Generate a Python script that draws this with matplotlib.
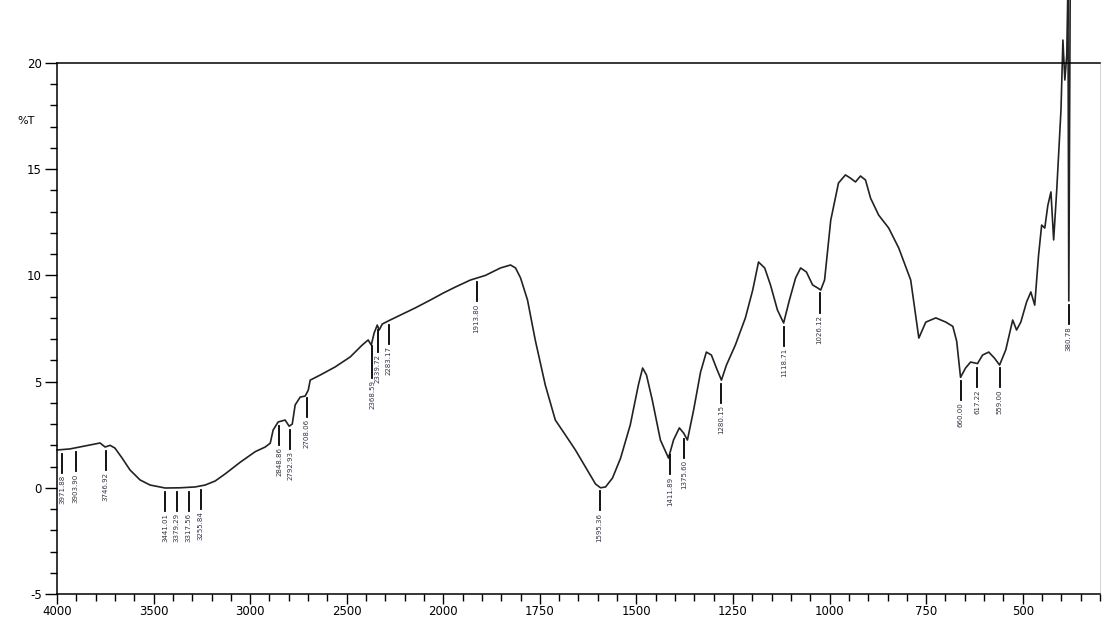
import numpy as np
import matplotlib
matplotlib.use("Agg")
import matplotlib.pyplot as plt
from matplotlib.ticker import FixedLocator

# IR spectrum, wavenumber (cm-1) vs %T
wavenumber = [
    4000, 3933, 3855, 3803, 3777, 3751, 3725, 3700, 3663, 3622, 3570, 3518,
    3440, 3363, 3285, 3233, 3181, 3130, 3052, 2974, 2922, 2896, 2881, 2855,
    2819, 2798, 2782, 2767, 2741, 2715, 2699, 2689, 2637, 2560, 2482, 2420,
    2389, 2373, 2358, 2342, 2332, 2316, 2275, 2223, 2145, 2067, 2000,
    1969, 1930, 1891, 1852, 1826, 1813, 1800, 1782, 1762, 1736, 1710, 1684,
    1658, 1632, 1606, 1593, 1580, 1562, 1541, 1516, 1495, 1484, 1474, 1459,
    1438, 1417, 1404, 1389, 1378, 1368, 1352, 1334, 1319, 1306, 1293, 1280,
    1267, 1244, 1218, 1199, 1184, 1168, 1153, 1135, 1119, 1104, 1088, 1075,
    1060, 1044, 1031, 1023, 1013, 997, 977, 959, 946, 933, 920, 907, 894,
    873, 847, 821, 790, 769, 751, 725, 699, 681, 671, 661, 648, 635, 617,
    604, 588, 573, 560, 544, 526, 516, 505, 490, 479, 469, 459, 451, 443,
    435, 427, 420, 412, 401, 396, 391, 386, 383, 380.78, 377,
]
transmittance = [
    1.78, 1.83, 1.97, 2.06, 2.11, 1.92, 2.00, 1.87, 1.40, 0.84, 0.37, 0.13,
    -0.01, 0.00, 0.04, 0.13, 0.32, 0.65, 1.20, 1.70, 1.92, 2.10, 2.72, 3.10,
    3.19, 2.90, 3.00, 3.90, 4.27, 4.32, 4.60, 5.07, 5.31, 5.69, 6.16, 6.72,
    6.96, 6.72, 7.29, 7.66, 7.43, 7.71, 7.90, 8.13, 8.47, 8.84, 9.17,
    9.45, 9.78, 10.00, 10.35, 10.49, 10.35, 9.88, 8.84, 6.96, 4.84, 3.19, 2.49,
    1.78, 0.98, 0.18, 0.00, 0.04, 0.46, 1.40, 2.96, 4.84, 5.64, 5.31, 4.13,
    2.25, 1.40, 2.25, 2.82, 2.58, 2.25, 3.66, 5.45, 6.39, 6.25, 5.64, 5.07,
    5.78, 6.72, 8.00, 9.31, 10.63, 10.35, 9.55, 8.37, 7.76, 8.84, 9.88, 10.35,
    10.16, 9.55, 9.41, 9.31, 9.78, 12.60, 14.35, 14.73, 14.58, 14.40, 14.68, 14.49, 13.64,
    12.84, 12.23, 11.29, 9.78, 7.05, 7.80, 8.00, 7.80, 7.60, 6.90, 5.20, 5.64, 5.92, 5.85,
    6.25, 6.39, 6.10, 5.78, 6.49, 7.90, 7.43, 7.80, 8.75, 9.22, 8.60, 10.96, 12.37, 12.23,
    13.30, 13.93, 11.67, 14.02, 17.79, 21.08, 19.20, 20.38, 23.70, 8.80, 24.00,
]

peaks = [3971.88, 3903.90, 3746.92, 3441.01, 3379.29, 3317.56, 3255.84,
         2848.86, 2792.93, 2708.06, 2368.59, 2339.72, 2283.17, 1913.80,
         1595.36, 1411.89, 1375.60, 1280.15, 1118.71, 1026.12,
         660.00, 617.22, 559.00, 380.78]

yticks = [-5, 0, 5, 10, 15, 20]
xticks = [4000, 3500, 3000, 2500, 2000, 1750, 1500, 1250, 1000, 750, 500]

# crowded markers get a longer stem so their labels don't collide
stem_extra = {2368.59: 0.6, 2339.72: 0.1}


# split wavenumber axis: 500 per division above 2000, 250 per division below
def fwd(w):
    w = np.asarray(w, dtype=float)
    return np.where(w >= 2000, (w - 2000) / 500.0, (w - 2000) / 250.0)


def inv(u):
    u = np.asarray(u, dtype=float)
    return np.where(u >= 0, 2000 + 500.0 * u, 2000 + 250.0 * u)


fig = plt.figure(figsize=(11.02, 6.24), dpi=100)
ax = fig.add_axes([57 / 1102, 30 / 624, 1043 / 1102, 531 / 624])
ax.set_xscale("function", functions=(fwd, inv))

ax.plot(wavenumber, transmittance, color="#222222", lw=1.2, clip_on=False)

ax.set_xlim(4000, 300)
ax.set_ylim(-5, 20)

minor_x = list(range(4000, 2000, -100)) + list(range(2000, 299, -50))
ax.xaxis.set_major_locator(FixedLocator(xticks))
ax.xaxis.set_minor_locator(FixedLocator(minor_x))
ax.set_xticklabels([str(t) for t in xticks])
ax.yaxis.set_major_locator(FixedLocator(yticks))
ax.yaxis.set_minor_locator(FixedLocator(list(range(-5, 21))))
ax.set_yticklabels([str(t) for t in yticks])

ax.tick_params(axis="both", which="major", direction="out", length=7,
               width=1, labelsize=8.5, colors="black")
ax.tick_params(axis="both", which="minor", direction="out", length=5, width=1)
ax.tick_params(axis="x", pad=1)
ax.tick_params(axis="y", which="major", length=9, pad=2)

for side in ["left", "bottom", "top"]:
    ax.spines[side].set_linewidth(1.1)
ax.spines["right"].set_color("#cccccc")
ax.spines["right"].set_linewidth(0.6)

ax.text(-0.03, 0.89, "%T", transform=ax.transAxes, fontsize=8,
        ha="center", va="center")

# peak markers: short tick under the curve, value written below it
w_sorted = np.array(wavenumber[::-1])
t_sorted = np.array(transmittance[::-1])
for p in peaks:
    t = np.interp(p, w_sorted, t_sorted)
    top = t - 0.2
    bot = top - 0.9 - stem_extra.get(p, 0.0)
    ax.plot([p, p], [top, bot], color="black", lw=1.3)
    ax.text(p, bot - 0.1, f"{p:.2f}", rotation=90, ha="center", va="top",
            fontsize=5, color="#333344")

fig.savefig("out.png", dpi=100)
